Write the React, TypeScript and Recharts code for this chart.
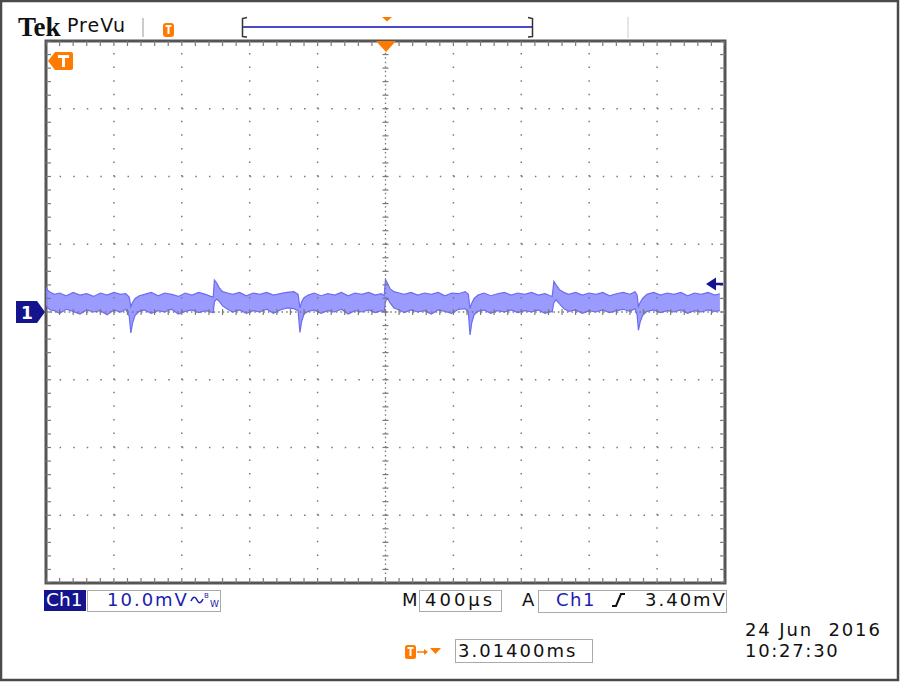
import {
  ComposedChart,
  Area,
  Scatter,
  XAxis,
  YAxis,
  ReferenceLine,
  ReferenceArea,
} from "recharts";

// time relative to trigger (µs), 400µs/div
const timeUs = [
  -2000, -1990, -1975, -1950, -1920, -1880, -1840, -1800, -1760, -1720,
  -1680, -1640, -1600, -1560, -1530, -1510, -1500, -1490, -1475, -1450,
  -1420, -1380, -1340, -1300, -1260, -1220, -1180, -1140, -1100, -1060,
  -1030, -1015, -1008, -995, -980, -960, -930, -900, -860, -820,
  -780, -740, -700, -660, -620, -580, -540, -515, -504, -494,
  -480, -455, -420, -380, -340, -300, -260, -220, -180, -140,
  -100, -60, -25, -8, 0, 12, 28, 50, 80, 110,
  150, 190, 230, 270, 310, 350, 390, 430, 470, 488,
  498, 508, 522, 545, 580, 620, 660, 700, 740, 780,
  820, 860, 900, 940, 970, 982, 992, 1005, 1025, 1050,
  1080, 1120, 1160, 1200, 1240, 1280, 1320, 1360, 1400, 1440,
  1470, 1482, 1490, 1500, 1515, 1540, 1580, 1620, 1660, 1700,
  1740, 1780, 1820, 1860, 1900, 1940, 1970,
];

// top of the noise band (mV), 10mV/div
const upperMv = [
  3.7, 3.2, 2.9, 2.6, 2.8, 2.4, 2.9, 2.5, 2.7, 2.3,
  2.8, 2.5, 2.9, 2.6, 2.7, 2.2, 0.8, 1.4, 2.0, 2.4,
  2.6, 2.9, 2.4, 2.8, 2.6, 2.3, 2.8, 2.5, 2.9, 2.6,
  2.3, 2.2, 4.7, 4.3, 3.6, 3.0, 2.8, 2.6, 2.9, 2.4,
  2.8, 2.6, 2.9, 2.5, 2.7, 2.9, 3.0, 2.6, 0.6, 1.5,
  2.1, 2.5, 2.8, 2.4, 2.7, 2.5, 2.9, 2.4, 2.8, 2.6,
  2.9, 2.5, 2.7, 2.4, 4.8, 4.2, 3.4, 3.0, 2.8, 2.6,
  2.9, 2.5, 2.8, 2.6, 2.9, 2.4, 2.8, 2.7, 3.0, 2.6,
  0.5, 1.3, 2.0, 2.5, 2.8, 2.4, 2.7, 2.9, 2.5, 2.8,
  2.6, 2.9, 2.5, 2.7, 2.4, 2.3, 4.5, 4.0, 3.3, 2.9,
  2.6, 2.9, 2.5, 2.8, 2.6, 2.9, 2.4, 2.7, 2.9, 2.6,
  3.0, 2.5, 0.8, 1.4, 2.0, 2.6, 2.9, 2.5, 2.8, 2.6,
  2.9, 2.4, 2.8, 2.6, 2.9, 2.5, 2.7,
];

// bottom of the noise band (mV)
const lowerMv = [
  1.0, 0.6, 0.3, 0.2, -0.2, 0.4, 0.1, -0.3, 0.3, 0.0,
  0.2, -0.4, 0.3, 0.0, 0.4, -0.6, -3.1, -1.6, -0.5, 0.1,
  0.3, -0.2, 0.2, 0.0, 0.4, -0.3, 0.1, 0.3, -0.1, 0.2,
  0.0, -0.1, 1.5, 1.9, 1.6, 0.9, 0.4, 0.0, 0.3, -0.2,
  0.2, 0.0, 0.4, -0.2, 0.3, 0.6, 0.5, 0.2, -3.0, -1.4,
  -0.3, 0.1, 0.3, -0.2, 0.2, 0.0, 0.4, -0.3, 0.2, 0.0,
  0.3, -0.1, 0.2, 0.0, 1.6, 2.0, 1.3, 0.6, 0.3, -0.1,
  0.3, 0.0, 0.2, -0.3, 0.3, 0.1, -0.2, 0.4, 0.5, 0.0,
  -3.4, -1.6, -0.4, 0.1, 0.3, -0.2, 0.2, 0.0, 0.3, -0.1,
  0.2, 0.0, 0.3, -0.2, 0.1, 0.0, 1.4, 1.8, 1.2, 0.5,
  0.1, 0.3, -0.2, 0.2, 0.0, 0.3, -0.1, 0.2, 0.4, 0.1,
  0.5, -0.4, -2.7, -1.5, -0.5, 0.1, 0.3, -0.1, 0.2, 0.0,
  0.3, -0.2, 0.2, 0.0, 0.3, 0.1, 0.2,
];

const xDivisions = [-2000, -1600, -1200, -800, -400, 0, 400, 800, 1200, 1600, 2000];
const yDivisions = [-40, -30, -20, -10, 0, 10, 20, 30, 40];

const traceData = timeUs.map((t, i) => ({ t, band: [lowerMv[i], upperMv[i]] }));

// 5 minor ticks per division
const minorX: number[] = [];
for (let t = -2000; t <= 2000; t += 80) minorX.push(t);
const minorY: number[] = [];
for (let v = -40; v <= 40; v += 2) minorY.push(v);

const topTicks = minorX.map((t) => ({ t, v: 40 }));
const bottomTicks = minorX.map((t) => ({ t, v: -40 }));
const centerXTicks = minorX.map((t) => ({ t, v: 0 }));
const leftTicks = minorY.map((v) => ({ t: -2000, v }));
const rightTicks = minorY.map((v) => ({ t: 2000, v }));
const centerYTicks = minorY.map((v) => ({ t: 0, v }));

const GRID = "#7a7a7a";
const ORANGE = "#ff7a00";
const NAVY = "#14148f";
const BLUE = "#1c1cae";
const FONT = "'DejaVu Sans', sans-serif";

const tick = (dx1: number, dy1: number, dx2: number, dy2: number) => (p: any) => (
  <line
    x1={p.cx + dx1}
    y1={p.cy + dy1}
    x2={p.cx + dx2}
    y2={p.cy + dy2}
    stroke={GRID}
    strokeWidth={1.2}
  />
);

function Overlay() {
  const txt = { fontFamily: FONT, fontSize: 18 };
  return (
    <svg
      width={900}
      height={682}
      style={{ position: "absolute", left: 0, top: 0, pointerEvents: "none" }}
    >
      {/* outer frame */}
      <rect x={1} y={1} width={897} height={679} fill="none" stroke="#4a4a4a" strokeWidth={2.5} />

      {/* header */}
      <text x={18} y={36} fontFamily="'Liberation Serif', serif" fontWeight="bold" fontSize={27} fill="#111">
        Tek
      </text>
      <text x={67} y={32} fontFamily={FONT} fontSize={19} letterSpacing={1} fill="#111">
        PreVu
      </text>
      <line x1={143} y1={18} x2={143} y2={37} stroke="#999" strokeWidth={1} />
      <rect x={163} y={23} width={11} height={14} rx={3} fill={ORANGE} />
      <path d="M165.5,26 L171.5,26 M168.5,26 L168.5,34" stroke="#fff" strokeWidth={2} />
      <path d="M247,17.5 L242.5,18.5 L242.5,36.5 L247,37" fill="none" stroke="#333" strokeWidth={1.5} />
      <line x1={243} y1={27} x2={532} y2={27} stroke="#4a4ac8" strokeWidth={2} />
      <path d="M528,17.5 L532.5,18.5 L532.5,36.5 L528,37" fill="none" stroke="#333" strokeWidth={1.5} />
      <polygon points="382,17 392,17 387,21.5" fill={ORANGE} />
      <line x1={628} y1={17} x2={628} y2={38} stroke="#ccc" strokeWidth={1} />

      {/* in-graticule markers */}
      <polygon points="376,41 396,41 386,52" fill={ORANGE} />
      <path d="M48,61 L55,52 L71,52 Q73,52 73,54 L73,68 Q73,70 71,70 L55,70 Z" fill={ORANGE} />
      <path d="M58,56.5 L69,56.5 M63.5,56.5 L63.5,67" stroke="#fff" strokeWidth={3} />
      <polygon points="16,301 37,301 45,312 37,323 16,323" fill={NAVY} />
      <text x={21} y={319} fontFamily={FONT} fontWeight="bold" fontSize={17} fill="#fff">
        1
      </text>
      <polygon points="706,284 716,277.5 716,290.5" fill={NAVY} />
      <line x1={715} y1={284} x2={723} y2={284} stroke={NAVY} strokeWidth={2.5} />

      {/* status bar */}
      <rect x={44} y={590} width={42} height={21} fill={NAVY} />
      <text x={46} y={606} {...txt} fontSize={18.5} fill="#fff">
        Ch1
      </text>
      <rect x={87.5} y={590.5} width={133} height={21} fill="#fff" stroke="#aaa" />
      <text x={107} y={606} {...txt} letterSpacing={2} fill={BLUE}>
        10.0mV
      </text>
      <path d="M191,601 Q194,594 197,600 Q200,606 203,599" fill="none" stroke={BLUE} strokeWidth={1.6} />
      <text x={204} y={598} fontFamily={FONT} fontSize={7} fill={BLUE}>
        B
      </text>
      <text x={210} y={607} fontFamily={FONT} fontSize={9} fill={BLUE}>
        W
      </text>

      <text x={402} y={606} {...txt} fill="#111">
        M
      </text>
      <rect x={419.5} y={590.5} width={82} height={21} fill="#fff" stroke="#aaa" />
      <text x={425} y={606} {...txt} letterSpacing={3} fill="#111">
        400µs
      </text>
      <text x={522} y={606} {...txt} fill="#111">
        A
      </text>
      <rect x={538.5} y={590.5} width={188} height={22} fill="#fff" stroke="#aaa" />
      <text x={556} y={606} {...txt} letterSpacing={1.5} fill={BLUE}>
        Ch1
      </text>
      <path d="M612,606 L616,606 L621,594 L625,594" fill="none" stroke="#111" strokeWidth={2} />
      <text x={645} y={606} {...txt} letterSpacing={2} fill="#111">
        3.40mV
      </text>

      {/* trigger position */}
      <rect x={405} y={645} width={11} height={14} rx={2.5} fill={ORANGE} />
      <path d="M407.5,648 L413.5,648 M410.5,648 L410.5,656" stroke="#fff" strokeWidth={2} />
      <line x1={417} y1={652} x2={425} y2={652} stroke={ORANGE} strokeWidth={1.5} />
      <polygon points="424,649 428,652 424,655" fill={ORANGE} />
      <polygon points="430,648 441,648 435.5,654" fill={ORANGE} />
      <rect x={455.5} y={639.5} width={137} height={23} fill="#fff" stroke="#aaa" />
      <text x={458} y={657} {...txt} letterSpacing={2} fill="#111">
        3.01400ms
      </text>

      <text x={745} y={636} {...txt} letterSpacing={1.9} fill="#111" style={{ whiteSpace: "pre" }}>
        24 Jun  2016
      </text>
      <text x={745} y={657} {...txt} letterSpacing={1.7} fill="#111">
        10:27:30
      </text>
    </svg>
  );
}

export default function App() {
  return (
    <div style={{ position: "absolute", left: 0, top: 0, width: 900, height: 682, background: "#fff" }}>
      <ComposedChart
        width={900}
        height={682}
        data={traceData}
        margin={{ top: 41, right: 175, bottom: 99, left: 46 }}
      >
        <XAxis type="number" dataKey="t" domain={[-2000, 2000]} allowDataOverflow hide />
        <YAxis type="number" dataKey="v" domain={[-40, 40]} allowDataOverflow hide />

        {xDivisions.slice(1, -1).map((t) =>
          t === 0 ? null : (
            <ReferenceLine key={`gx${t}`} x={t} stroke={GRID} strokeWidth={1.5} strokeDasharray="1.5 12.05" />
          )
        )}
        {yDivisions.slice(1, -1).map((v) =>
          v === 0 ? null : (
            <ReferenceLine key={`gy${v}`} y={v} stroke={GRID} strokeWidth={1.5} strokeDasharray="1.5 12.08" />
          )
        )}
        <ReferenceLine x={0} stroke={GRID} strokeWidth={1.3} strokeDasharray="1.5 3.02" />
        <ReferenceLine y={0} stroke={GRID} strokeWidth={1.3} strokeDasharray="1.5 3.03" />

        <Scatter data={topTicks} dataKey="v" isAnimationActive={false} shape={tick(0, 0, 0, 5)} />
        <Scatter data={bottomTicks} dataKey="v" isAnimationActive={false} shape={tick(0, 0, 0, -5)} />
        <Scatter data={leftTicks} dataKey="v" isAnimationActive={false} shape={tick(0, 0, 5, 0)} />
        <Scatter data={rightTicks} dataKey="v" isAnimationActive={false} shape={tick(0, 0, -5, 0)} />
        <Scatter data={centerXTicks} dataKey="v" isAnimationActive={false} shape={tick(0, -3, 0, 3)} />
        <Scatter data={centerYTicks} dataKey="v" isAnimationActive={false} shape={tick(-3, 0, 3, 0)} />

        <ReferenceArea
          x1={-2000}
          x2={2000}
          y1={-40}
          y2={40}
          fill="none"
          stroke="#555"
          strokeWidth={3}
        />

        <Area
          type="linear"
          dataKey="band"
          stroke="#6c6cf2"
          strokeWidth={1.2}
          fill="#8a8aff"
          fillOpacity={0.85}
          isAnimationActive={false}
        />
      </ComposedChart>
      <Overlay />
    </div>
  );
}
